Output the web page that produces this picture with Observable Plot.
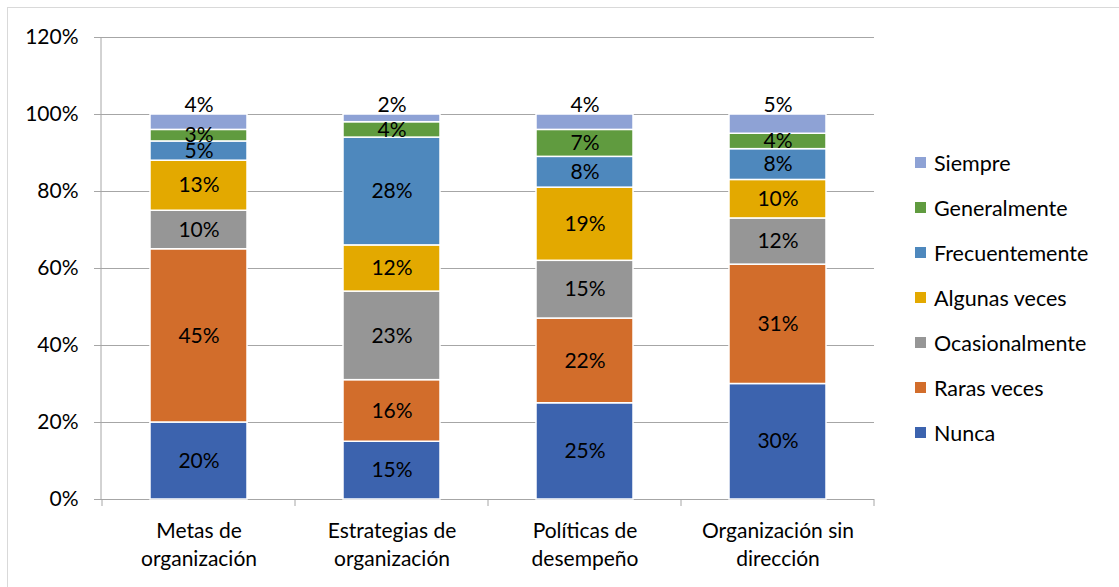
<!DOCTYPE html>
<html><head><meta charset="utf-8">
<script src="https://cdn.jsdelivr.net/npm/d3@7"></script>
<script src="https://cdn.jsdelivr.net/npm/@observablehq/plot@0.6"></script>
<style>
html,body{margin:0;padding:0;background:#fff;overflow:hidden}
#wrap{position:relative;width:1119px;height:587px;overflow:hidden;font-family:Lato,sans-serif;color:#000}
#border{position:absolute;left:7px;top:7px;width:1200px;height:700px;border:1px solid #d9d9d9;box-sizing:border-box}
#chart{position:absolute;left:0;top:0}
#legend{position:absolute;left:915px;top:140px}
.item{display:flex;align-items:center;height:45px;font-size:21.5px;white-space:nowrap}
.sw{width:11px;height:11px;margin-right:8px;flex:none}
</style></head><body>
<div id="wrap"><div id="border"></div><div id="chart"></div><div id="legend"></div></div>
<script>
const categories = ["Metas de\norganización", "Estrategias de\norganización", "Políticas de\ndesempeño", "Organización sin\ndirección"];
const series = ["Nunca", "Raras veces", "Ocasionalmente", "Algunas veces", "Frecuentemente", "Generalmente", "Siempre"];
const nunca = [20, 15, 25, 30];
const rarasVeces = [45, 16, 22, 31];
const ocasionalmente = [10, 23, 15, 12];
const algunasVeces = [13, 12, 19, 10];
const frecuentemente = [5, 28, 8, 8];
const generalmente = [3, 4, 7, 4];
const siempre = [4, 2, 4, 5];
const yTicks = [0, 0.2, 0.4, 0.6, 0.8, 1.0, 1.2];
const colors = ["#3c63ae", "#d26d2b", "#969696", "#e3a900", "#4e88bd", "#609b3f", "#8ea2d5"];

const seriesValues = [nunca, rarasVeces, ocasionalmente, algunasVeces, frecuentemente, generalmente, siempre];
const rows = [];
categories.forEach((cat, ci) => {
  let acc = 0;
  series.forEach((s, si) => {
    const v = seriesValues[si][ci] / 100;
    rows.push({cat, series: s, value: v, y1: acc, y2: acc + v, mid: acc + v / 2, top: si === series.length - 1, label: seriesValues[si][ci] + "%"});
    acc += v;
  });
});

const axisGray = "#a6a6a6";
const fs = 21;

function boundaryTicks(index, scales, values, dims) {
  const x = scales.x, y = scales.y;
  const bw = typeof x.bandwidth === "function" ? x.bandwidth() : x.bandwidth;
  const step = x(categories[1]) - x(categories[0]);
  const half = (step - bw) / 2;
  const g = d3.create("svg:g").attr("stroke", axisGray).attr("stroke-width", 1);
  const xs = categories.map(c => x(c) - half);
  xs.push(x(categories[categories.length - 1]) + bw + half);
  const y0 = y(0);
  xs.forEach(px => g.append("line").attr("x1", px).attr("x2", px).attr("y1", y0).attr("y2", y0 + 7));
  g.append("line").attr("x1", dims.marginLeft).attr("x2", dims.marginLeft).attr("y1", y(1.2)).attr("y2", y0);
  return g.node();
}

const plot = Plot.plot({
  width: 1119,
  height: 587,
  marginLeft: 101,
  marginRight: 245,
  marginTop: 37,
  marginBottom: 88,
  style: {fontFamily: "Lato, sans-serif", fontSize: fs + "px", color: "#000", background: "transparent"},
  x: {domain: categories, paddingInner: 0.5, paddingOuter: 0.25, axis: null, label: null},
  y: {domain: [0, 1.2], axis: null, label: null},
  color: {domain: series, range: colors},
  marks: [
    Plot.ruleY(yTicks, {stroke: axisGray, strokeWidth: 1}),
    Plot.barY(rows, {x: "cat", y1: "y1", y2: "y2", fill: "series", stroke: "white", strokeWidth: 1.5}),
    Plot.text(rows.filter(d => !d.top), {x: "cat", y: "mid", text: "label", fill: "#000", fontSize: fs}),
    Plot.text(rows.filter(d => d.top), {x: "cat", y: "y2", text: "label", fill: "#000", fontSize: fs, lineAnchor: "bottom", dy: -3}),
    Plot.axisY(yTicks, {tickFormat: d3.format(".0%"), tickSize: 7, tickPadding: 16, stroke: axisGray, fill: "#000", fontSize: fs, label: null}),
    Plot.axisX({tickSize: 0, tickPadding: 19, fill: "#000", fontSize: fs, lineHeight: 1.33, label: null}),
    boundaryTicks
  ]
});
document.getElementById("chart").appendChild(plot);

const color = plot.scale("color");
const legend = document.getElementById("legend");
series.slice().reverse().forEach(s => {
  const i = color.domain.indexOf(s);
  const item = document.createElement("div");
  item.className = "item";
  const sw = document.createElement("span");
  sw.className = "sw";
  sw.style.background = color.range[i];
  const t = document.createElement("span");
  t.textContent = s;
  item.appendChild(sw); item.appendChild(t);
  legend.appendChild(item);
});
</script>
</body></html>
